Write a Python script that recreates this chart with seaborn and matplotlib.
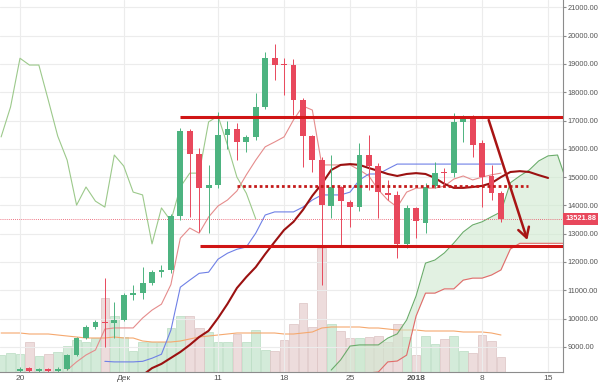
import numpy as np
import matplotlib
matplotlib.use("Agg")
import matplotlib.pyplot as plt
import seaborn as sns

# day index: 0 = 20 Nov 2017, daily candles up to index 51
days = list(range(-2, 52))
opens = [7700, 7790, 8150, 8240, 8160, 8230, 8150, 8230, 8710, 9300,
         9710, 9890, 9840, 9950, 10830, 10920, 11270, 11650, 11700, 13620,
         16630, 15820, 14610, 14720, 16480, 16700, 16240, 16420, 17480, 19200,
         18980, 18960, 17720, 16450, 15600, 13980, 14650, 14120, 13940, 15780,
         15390, 14440, 14370, 12640, 13910, 13380, 14680, 15160, 15140, 16950,
         17160, 16200, 15030, 14430]
highs = [7850, 8100, 8300, 8280, 8260, 8270, 8280, 8760, 9340, 9760,
         9950, 11430, 10600, 10900, 11190, 11820, 11700, 11890, 13700, 16730,
         16700, 16030, 15420, 17300, 17000, 16900, 16500, 17970, 19420, 19700,
         19200, 19180, 17800, 16500, 15700, 15780, 14700, 14200, 16200, 16480,
         15500, 14900, 14500, 14000, 13950, 14800, 15530, 15320, 17270, 17200,
         17200, 16310, 15420, 14500]
lows = [7600, 7700, 8110, 8100, 8120, 8100, 8100, 8200, 8690, 9280,
        9650, 9000, 9300, 9900, 10660, 10700, 11200, 11470, 11600, 13500,
        13590, 13060, 13020, 14600, 16000, 15600, 15890, 16300, 17400, 18430,
        17900, 17200, 15360, 15180, 11180, 13550, 12530, 13240, 13800, 14540,
        13550, 14190, 12140, 12500, 12850, 13020, 14600, 14680, 15000, 16250,
        15710, 13940, 14190, 13400]
closes = [7790, 8040, 8230, 8160, 8230, 8150, 8230, 8710, 9300, 9710,
          9890, 9840, 9960, 10830, 10920, 11270, 11650, 11700, 13620, 16630,
          15820, 14610, 14720, 16480, 16700, 16240, 16420, 17480, 19200, 18960,
          18960, 17720, 16450, 15600, 14010, 14650, 14150, 13940, 15780, 15390,
          14470, 14370, 12640, 13910, 13450, 14650, 15140, 15140, 16950, 17160,
          16130, 15000, 14430, 13521.88]
volumes = [17, 19, 18, 30, 16, 18, 20, 26, 32, 30,
           34, 74, 56, 35, 21, 30, 30, 30, 44, 56,
           56, 44, 40, 30, 30, 38, 30, 42, 22, 21,
           32, 48, 69, 45, 124, 48, 41, 34, 34, 35,
           36, 30, 48, 35, 17, 36, 28, 33, 36, 21,
           19, 37, 31, 15]
volume_ma = [39, 39, 39, 38, 38, 38, 37, 36, 35, 34,
             34, 34, 35, 34, 34, 31, 30, 30, 30, 31,
             33, 35, 36, 37, 38, 39, 39, 39, 39, 39,
             38, 38, 39, 40, 44, 45, 45, 45, 45, 44,
             44, 43, 42, 42, 42, 41, 41, 41, 41, 40,
             40, 40, 39, 37]

# ichimoku-style lines
tenkan_days = list(range(5, 52))
tenkan = [8184, 8470, 8714, 8890, 9630, 9670, 9670, 9670, 10020, 10300,
          10510, 11200, 12840, 13200, 13020, 13590, 13980, 14190, 14510, 15080,
          15600, 16070, 16240, 16420, 17020, 17510, 17370, 15430, 15430, 15430,
          15430, 15250, 15040, 14550, 14190, 13940, 14470, 14610, 14610, 14610,
          14680, 14930, 15040, 14900, 15000, 15080, 15140]
kijun_days = list(range(9, 52))
kijun = [8490, 8470, 8470, 8470, 8490, 8600, 8740, 9590, 11110, 11360,
         11600, 11640, 12100, 12310, 12450, 12530, 13020, 13660, 13770, 13770,
         13770, 13940, 14190, 14370, 14370, 14370, 14470, 14900, 15110, 15110,
         15290, 15460, 15460, 15460, 15460, 15460, 15460, 15460, 15460, 15460,
         15460, 15460, 15460]
ma_days = list(range(13, 57))
slow_ma = [8000, 8250, 8400, 8610, 8820, 9070, 9350, 9570, 10020, 10520,
           11080, 11470, 11820, 12280, 12710, 13130, 13420, 13840, 14340, 14760,
           15250, 15430, 15460, 15430, 15320, 15220, 15110, 15040, 15110, 15140,
           15110, 14970, 14760, 14620, 14620, 14650, 14690, 14790, 15000, 15180,
           15210, 15180, 15070, 14970]
cloud_days = list(range(33, 59))
span_a = [8180, 8540, 9030, 9070, 9070, 9070, 9310, 9460, 9950, 10800,
          11960, 12070, 12320, 12670, 13060, 13310, 13420, 13600, 13770, 14800,
          15040, 15250, 15570, 15750, 15780, 14800]
span_b = [7900, 7950, 8000, 8050, 8080, 8113, 8470, 8500, 8710, 10090,
          10900, 10900, 11050, 11050, 11360, 11430, 11430, 11540, 11720, 12460,
          12660, 12660, 12660, 12660, 12660, 12660]

# hand-drawn levels
resistance, res_from = 17130, 16.97
support, sup_from = 12570, 19.1
mid_level, mid_from, mid_to = 14668, 23.0, 53.9
arrow_from, arrow_to = (49.7, 17018), (53.8, 12777)
last_price = closes[-1]

tick_days = [0, 11, 21, 28, 35, 42, 49, 56]
tick_labels = ["20", "Дек", "11", "18", "25", "2018", "8", "15"]

UP, DOWN = "#4db380", "#e8485c"

sns.set_style("white")
plt.rcParams['font.family'] = ['Liberation Sans', 'DejaVu Sans']

fig = plt.figure(figsize=(6, 3.83), dpi=100)
pos = [0, 11 / 383, 563 / 600, 372 / 383]
ax_v = fig.add_axes(pos)
ax = fig.add_axes(pos)
xlim = (-2.12, 57.58)

# --- volume pane ---
d = np.array(days)
o, h, l, c = map(np.array, (opens, highs, lows, closes))
up = c >= o
ax_v.bar(d[up], np.array(volumes)[up], width=0.92, color="#d3ebd9", edgecolor="#b9dcc2", linewidth=0.5)
ax_v.bar(d[~up], np.array(volumes)[~up], width=0.92, color="#eddcdc", edgecolor="#dcc3c3", linewidth=0.5)
sns.lineplot(x=days, y=volume_ma, ax=ax_v, color="#f5a86e", linewidth=0.8)
ax_v.set_xlim(*xlim)
ax_v.set_ylim(0, 372)
ax_v.axis("off")

# --- price pane ---
ax.patch.set_visible(False)
ax.set_xlim(*xlim)
ax.set_ylim(8113, 21258)
ax.grid(True, color="#ececec", linewidth=0.8, zorder=0)

ax.fill_between(cloud_days, span_a, span_b, color="#cfe9cf", alpha=0.6, linewidth=0, zorder=1)
sns.lineplot(x=cloud_days, y=span_a, ax=ax, color="#6aac6a", linewidth=0.8, zorder=2)
sns.lineplot(x=cloud_days, y=span_b, ax=ax, color="#e36a6a", linewidth=0.8, zorder=2)
sns.lineplot(x=days[:-26], y=closes[26:], ax=ax, color="#9cc98b", linewidth=0.8, zorder=2)
sns.lineplot(x=tenkan_days, y=tenkan, ax=ax, color="#e58c8c", linewidth=0.8, zorder=2)
sns.lineplot(x=kijun_days, y=kijun, ax=ax, color="#6f80e6", linewidth=0.8, zorder=2)
sns.lineplot(x=ma_days, y=slow_ma, ax=ax, color="#9b1111", linewidth=1.5, zorder=2)

# candles
cols = np.where(up, UP, DOWN)
ax.vlines(d, l, h, colors=cols, linewidth=0.7, zorder=3)
body = np.maximum(np.abs(c - o), 40)
ax.bar(d, body, bottom=np.minimum(o, c), width=0.62, color=cols, linewidth=0, zorder=4)

# drawings
ax.axhline(last_price, color=DOWN, linewidth=0.6, linestyle=(0, (1, 1.5)), zorder=2)
ax.hlines(resistance, res_from, xlim[1], color="#d01515", linewidth=2.2, zorder=5)
ax.hlines(support, sup_from, xlim[1], color="#d01515", linewidth=2.2, zorder=5)
ax.hlines(mid_level, mid_from, mid_to, color="#c41a1a", linewidth=2, linestyle=(0, (1, 1)), zorder=5)
ax.annotate("", xy=arrow_to, xytext=arrow_from, zorder=6,
            arrowprops=dict(arrowstyle="->,head_length=0.7,head_width=0.4",
                            color="#a81414", lw=1.8, shrinkA=0, shrinkB=0))

# axes cosmetics
for s in ["top", "left"]:
    ax.spines[s].set_visible(False)
for s in ["right", "bottom"]:
    ax.spines[s].set_color("#8c8c8c")
    ax.spines[s].set_linewidth(0.8)
ax.yaxis.tick_right()
ax.set_yticks(range(9000, 22000, 1000))
ax.set_yticklabels([f"{v:.2f}" for v in range(9000, 22000, 1000)])
ax.set_xticks(tick_days)
ax.set_xticklabels(tick_labels)
ax.get_xticklabels()[5].set_fontweight("bold")
ax.tick_params(axis="y", length=2, pad=1, labelsize=5.3, color="#8c8c8c", labelcolor="#555555")
ax.tick_params(axis="x", length=2, pad=0.5, labelsize=6, color="#8c8c8c", labelcolor="#555555")
ax.set_xlabel("")
ax.set_ylabel("")

ax.text(1.004, last_price, f"{last_price:.2f}", transform=ax.get_yaxis_transform(),
        va="center", ha="left", fontsize=5.3, color="white", fontweight="bold",
        bbox=dict(boxstyle="square,pad=0.3", fc=DOWN, ec="none"), clip_on=False, zorder=7)

fig.savefig("out.png", dpi=100)
